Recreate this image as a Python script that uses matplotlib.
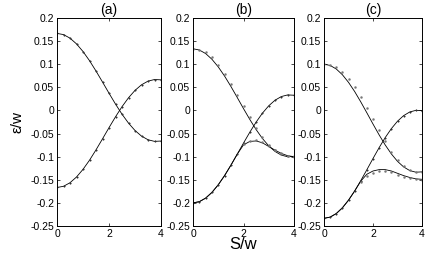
import matplotlib
matplotlib.use("Agg")
import matplotlib.pyplot as plt

plt.rcParams['font.family'] = ['Liberation Sans', 'DejaVu Sans']
plt.rcParams['axes.unicode_minus'] = False

S = [0, 0.25, 0.5, 0.75, 1.0, 1.25, 1.5, 1.75, 2.0, 2.25, 2.5, 2.75, 3.0, 3.25, 3.5, 3.75, 4.0]

# panel (a)
a_up = [0.1667, 0.1641, 0.1564, 0.1440, 0.1275, 0.1077, 0.0853, 0.0615, 0.0373, 0.0138,
        -0.0081, -0.0274, -0.0434, -0.0555, -0.0634, -0.0669, -0.0662]
a_low = [-0.1667, -0.1641, -0.1564, -0.1440, -0.1275, -0.1077, -0.0853, -0.0615, -0.0373, -0.0138,
         0.0081, 0.0274, 0.0434, 0.0555, 0.0634, 0.0669, 0.0662]

# panel (b)
b_up = [0.1334, 0.1308, 0.1231, 0.1107, 0.0942, 0.0744, 0.0520, 0.0282, 0.0040, -0.0195,
        -0.0414, -0.0607, -0.0767, -0.0888, -0.0967, -0.1002, -0.0995]
b_low = [-0.2000, -0.1974, -0.1897, -0.1773, -0.1608, -0.1410, -0.1186, -0.0948, -0.0706, -0.0471,
         -0.0252, -0.0059, 0.0101, 0.0222, 0.0301, 0.0336, 0.0329]
b_bump = [-0.2000, -0.1974, -0.1897, -0.1773, -0.1608, -0.1410, -0.1186, -0.0948, -0.0745, -0.0670,
          -0.0660, -0.0700, -0.0780, -0.0860, -0.0930, -0.0980, -0.1000]
b_mk_up = [0.1334, 0.1315, 0.1260, 0.1150, 0.0990, 0.0790, 0.0570, 0.0330, 0.0090, -0.0150,
           -0.0370, -0.0580, -0.0740, -0.0860, -0.0940, -0.0985, -0.0995]
b_mk_bump = [-0.0730, -0.0655, -0.0645, -0.0690, -0.0770, -0.0855, -0.0925, -0.0978, -0.1000]

# panel (c)
c_up = [0.1000, 0.0974, 0.0897, 0.0773, 0.0608, 0.0410, 0.0186, -0.0052, -0.0294, -0.0529,
        -0.0748, -0.0941, -0.1101, -0.1222, -0.1301, -0.1336, -0.1329]
c_low = [-0.2334, -0.2308, -0.2231, -0.2107, -0.1942, -0.1744, -0.1520, -0.1282, -0.1040, -0.0805,
         -0.0586, -0.0393, -0.0233, -0.0112, -0.0033, 0.0002, -0.0005]
c_bump = [-0.2334, -0.2308, -0.2231, -0.2107, -0.1942, -0.1744, -0.1530, -0.1380, -0.1310, -0.1280,
          -0.1280, -0.1310, -0.1360, -0.1410, -0.1450, -0.1480, -0.1490]
c_mk_up = [0.1000, 0.0985, 0.0930, 0.0830, 0.0690, 0.0510, 0.0300, 0.0060, -0.0180, -0.0420,
           -0.0660, -0.0890, -0.1070, -0.1210, -0.1290, -0.1330, -0.1330]
c_mk_bump = [-0.1550, -0.1420, -0.1350, -0.1320, -0.1320, -0.1340, -0.1390, -0.1430, -0.1470, -0.1490, -0.1500]

titles = ['(a)', '(b)', '(c)']
yticks = [0.2, 0.15, 0.1, 0.05, 0, -0.05, -0.1, -0.15, -0.2, -0.25]
ytick_labels = ['0.2', '0.15', '0.1', '0.05', '0', '-0.05', '-0.1', '-0.15', '-0.2', '-0.25']
xticks = [0, 2, 4]

W, H = 436, 254
fig = plt.figure(figsize=(W / 100, H / 100), dpi=100)

boxes = [(57, 161), (193, 294), (324, 422)]
top, bottom = 18, 226
axes = []
for (l, r) in boxes:
    ax = fig.add_axes([l / W, 1 - bottom / H, (r - l) / W, (bottom - top) / H])
    axes.append(ax)

lw = 0.6
ms = 1.1
dark = '#333333'
grey = '#777777'

# (a)
ax = axes[0]
ax.plot(S, a_up, color='black', lw=lw)
ax.plot(S, a_low, color='black', lw=lw)
ax.plot(S, a_up, ls='none', marker='o', ms=ms, color=dark, mew=0.3)
ax.plot(S, a_low, ls='none', marker='o', ms=ms, color=dark, mew=0.3)

# (b)
ax = axes[1]
ax.plot(S, b_up, color='black', lw=lw)
ax.plot(S, b_low, color='black', lw=lw)
ax.plot(S, b_bump, color='black', lw=lw)
ax.plot(S, b_mk_up, ls='none', marker='o', ms=ms + 0.3, color=grey, mew=0.3)
ax.plot(S, b_low, ls='none', marker='o', ms=ms, color=dark, mew=0.3)
ax.plot(S[8:], b_mk_bump, ls='none', marker='o', ms=ms + 0.3, color=grey, mew=0.3)

# (c)
ax = axes[2]
ax.plot(S, c_up, color='black', lw=lw)
ax.plot(S, c_low, color='black', lw=lw)
ax.plot(S, c_bump, color='black', lw=lw)
ax.plot(S, c_mk_up, ls='none', marker='o', ms=ms + 0.3, color=grey, mew=0.3)
ax.plot(S, c_low, ls='none', marker='o', ms=ms, color=dark, mew=0.3)
ax.plot(S[6:], c_mk_bump, ls='none', marker='o', ms=ms + 0.3, color=grey, mew=0.3)

for ax, t in zip(axes, titles):
    ax.set_xlim(0, 4)
    ax.set_ylim(-0.25, 0.2)
    ax.set_xticks(xticks)
    ax.set_yticks(yticks)
    ax.set_yticklabels(ytick_labels)
    ax.tick_params(direction='in', length=2.5, width=0.5, labelsize=7.5, pad=2,
                   top=True, right=True)
    for sp in ax.spines.values():
        sp.set_linewidth(0.7)
    ax.set_title(t, fontsize=10, pad=3)

axes[0].set_ylabel('ε/w', fontsize=11, labelpad=4)
axes[1].set_xlabel('S/w', fontsize=12, labelpad=-1)

fig.savefig('out.png', dpi=100)
